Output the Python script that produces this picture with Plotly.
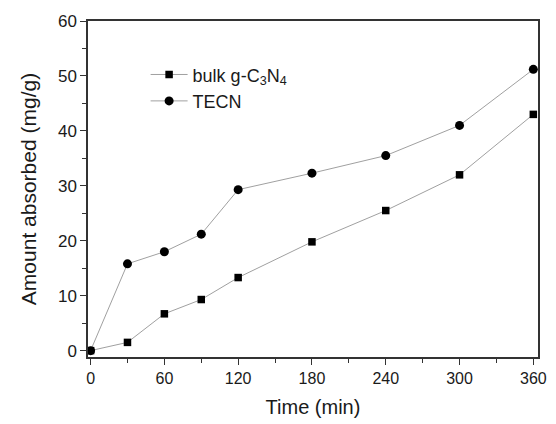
import plotly.graph_objects as go

time_min = [0, 30, 60, 90, 120, 180, 240, 300, 360]
bulk_vals = [0, 1.5, 6.7, 9.3, 13.3, 19.8, 25.5, 32.0, 43.0]
tecn_vals = [0, 15.8, 18.0, 21.2, 29.3, 32.3, 35.5, 41.0, 51.2]
x_ticks = [0, 60, 120, 180, 240, 300, 360]
y_ticks = [0, 10, 20, 30, 40, 50, 60]

fig = go.Figure()
fig.add_trace(go.Scatter(x=time_min, y=bulk_vals, mode="lines+markers",
                         name="bulk g-C<sub>3</sub>N<sub>4</sub>",
                         line=dict(color="#a0a0a0", width=1),
                         marker=dict(symbol="square", size=7.5, color="black")))
fig.add_trace(go.Scatter(x=time_min, y=tecn_vals, mode="lines+markers",
                         name="TECN",
                         line=dict(color="#a0a0a0", width=1),
                         marker=dict(symbol="circle", size=9, color="black")))

font = "Liberation Sans, Arial, sans-serif"
fig.update_layout(
    width=556, height=424,
    margin=dict(l=88, r=9, t=21, b=62),
    plot_bgcolor="white", paper_bgcolor="white",
    font=dict(family=font, size=16, color="#1a1a1a"),
    showlegend=True,
    legend=dict(x=0.128, y=0.895, xanchor="left", yanchor="top",
                bgcolor="rgba(0,0,0,0)", font=dict(size=18),
                tracegroupgap=0, itemwidth=37),
)
fig.update_xaxes(range=[-2.1, 363.8], tickvals=x_ticks, ticks="outside", ticklen=6,
                 tickcolor="#333", linecolor="#333", linewidth=1.5, mirror=True,
                 showgrid=False, zeroline=False, tickfont=dict(size=16),
                 minor=dict(dtick=30, tick0=0, ticks="outside", ticklen=4, tickcolor="#333"),
                 title=dict(text="Time (min)", font=dict(size=20), standoff=14))
fig.update_yaxes(range=[-1.16, 60], tickvals=y_ticks, ticks="outside", ticklen=6,
                 tickcolor="#333", linecolor="#333", linewidth=1.5, mirror=True,
                 showgrid=False, zeroline=False, tickfont=dict(size=17),
                 minor=dict(dtick=5, tick0=0, ticks="outside", ticklen=4, tickcolor="#333"),
                 title=dict(text="Amount absorbed (mg/g)", font=dict(size=21), standoff=16))

fig.write_html("out.html")
